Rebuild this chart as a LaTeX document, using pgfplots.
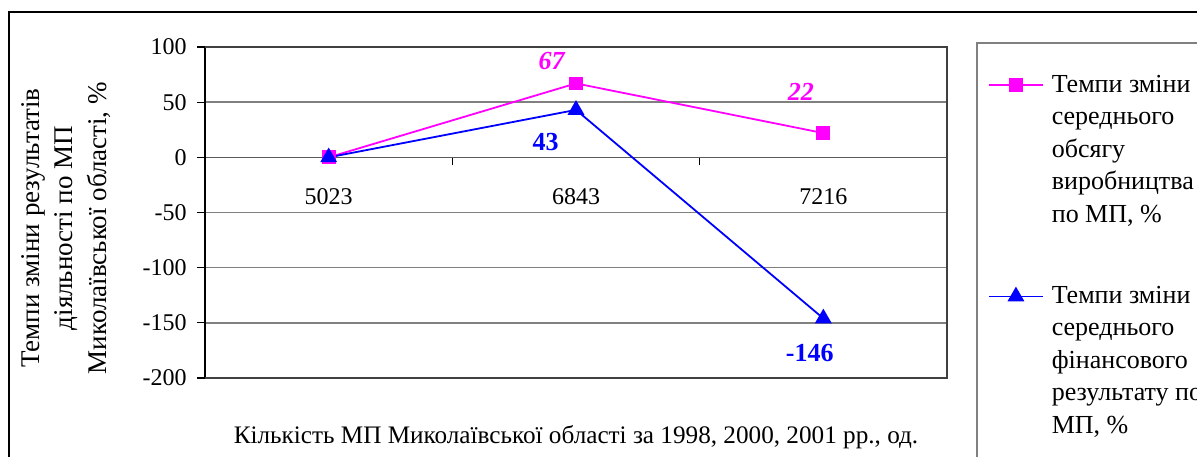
\documentclass[border=0pt]{standalone}
\usepackage{pgfplots}
\pgfplotsset{compat=1.18}
\usepackage{fontspec}
\setmainfont{Liberation Serif}
\definecolor{mag}{RGB}{255,0,255}
\definecolor{blu}{RGB}{0,0,255}
\definecolor{gridg}{RGB}{128,128,128}
\begin{document}
\begin{tikzpicture}
\begin{axis}[
  scale only axis, width=371pt, height=165.5pt,
  at={(0,0)}, anchor=south west,
  xmin=0, xmax=3, ymin=-200, ymax=100,
  axis x line*=middle, axis y line*=left,
  x axis line style={gridg!70!black, line width=0.75pt},
  y axis line style={black, line width=0.75pt},
  xtick={0.5,1.5,2.5}, xticklabels={5023,6843,7216},
  minor xtick={1,2},
  major x tick style={draw=none},
  minor x tick style={black, line width=0.6pt},
  xtick align=outside,
  minor tick length=4pt,
  ytick={-200,-150,-100,-50,0,50,100},
  yticklabels={-200,-150,-100,-50,0,50,100},
  ytick align=outside, major tick length=4pt,
  y tick style={black, line width=0.6pt},
  ymajorgrids, grid style={gridg, line width=0.75pt},
  tick label style={font=\fontsize{12}{14}\selectfont},
  yticklabel style={anchor=east, inner sep=0pt, xshift=-5pt},
  xticklabel style={anchor=center, inner sep=0pt, yshift=-15.5pt},
  ylabel={Темпи зміни результатів\\діяльності по МП\\Миколаївської області, \%},
  ylabel style={at={(axis description cs:-0.1873,0.453)}, anchor=center, align=center, font=\fontsize{13.5}{16.7}\selectfont},
  xlabel={Кількість МП Миколаївської області за 1998, 2000, 2001 рр., од.},
  xlabel style={at={(axis description cs:0.5,-0.18)}, anchor=center, font=\fontsize{12.6}{15}\selectfont},
  clip=false,
  legend style={draw=none, fill=none, at={(axis description cs:1.0553,0.9154)}, anchor=north west,
    inner sep=0pt, outer sep=0pt, row sep=95.5pt, column sep=4pt,
    font=\fontsize{13}{16.25}\selectfont, nodes={inner sep=0pt}, cells={anchor=base west}},
  legend image code/.code={\draw[mark repeat=2,mark phase=2,#1] plot coordinates {(0pt,3.5pt)(13.5pt,3.5pt)(27pt,3.5pt)};},
]
\draw[gridg!50!black, line width=0.75pt] (axis description cs:0,0) -- (axis description cs:1,0) -- (axis description cs:1,1) -- (axis description cs:0,1);
\addplot[mag, line width=0.9pt, mark=square*, mark size=3pt] coordinates {(0.5,0)(1.5,67)(2.5,22)};
\addlegendentry{\parbox[t]{100pt}{Темпи зміни\\середнього\\обсягу\\виробництва\\по МП, \%}}
\addplot[blu, line width=0.9pt, mark=triangle*, mark size=4pt] coordinates {(0.5,0)(1.5,43)(2.5,-146)};
\addlegendentry{\parbox[t]{100pt}{Темпи зміни\\середнього\\фінансового\\результату по\\МП, \%}}
\node[mag, font=\fontsize{13}{15}\selectfont\bfseries\itshape] at (axis cs:1.401,87) {67};
\node[mag, font=\fontsize{13}{15}\selectfont\bfseries\itshape] at (axis cs:2.409,58.9) {22};
\node[blu, font=\fontsize{13}{15}\selectfont\bfseries] at (axis cs:1.377,13.6) {43};
\node[blu, font=\fontsize{13}{15}\selectfont\bfseries] at (axis cs:2.445,-177.6) {-146};
\end{axis}
\draw[black, line width=0.7pt] (-98pt,-45pt) -- (-98pt,183pt) -- (505pt,183pt);
\draw[gridg, line width=0.6pt] (386pt,-45pt) -- (386pt,167.5pt) -- (505pt,167.5pt);
\pgfresetboundingbox
\path[use as bounding box] (-102.5pt,-39pt) rectangle (496pt,189pt);
\end{tikzpicture}
\end{document}
